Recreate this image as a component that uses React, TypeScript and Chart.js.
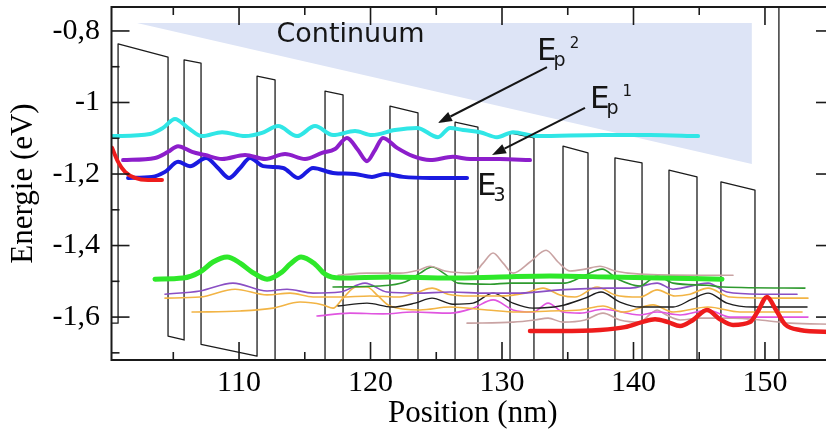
import React, { useEffect, useRef } from 'react';
import { Chart, registerables } from 'chart.js';

Chart.register(...registerables);

type Pt = [number, number];

// ---- axes ----
const xRange: Pt = [100.3, 155.25];
const yRange: Pt = [-1.72, -0.733];
const xTickValues = [110, 120, 130, 140, 150];
const xTickLabels = ['110', '120', '130', '140', '150'];
const xMinorTicks = [105, 115, 125, 135, 145, 155];
const yTickValues = [-0.8, -1, -1.2, -1.4, -1.6];
const yTickLabels = ['-0,8', '-1', '-1,2', '-1,4', '-1,6'];
const yMinorTicks = [-0.9, -1.1, -1.3, -1.5, -1.7];

// ---- data (Position nm, Energie eV) ----
const continuum: Pt[] = [[102.24, -0.778], [149.0, -0.778], [149.0, -1.172], [102.24, -0.778]];

const potential: Pt[] = [
  [99.5, -1.617], [100.8, -1.617], [100.8, -0.836], [104.6, -0.873], [104.6, -1.653], [105.82, -1.664],
  [105.82, -0.881], [107.11, -0.89], [107.11, -1.676], [111.37, -1.709], [111.37, -0.926], [112.74, -0.937],
  [112.74, -1.72], [116.54, -1.752], [116.54, -0.968], [117.91, -0.979], [117.91, -1.762], [121.48, -1.792],
  [121.48, -1.01], [123.61, -1.029], [123.61, -1.812], [126.43, -1.836], [126.43, -1.055], [128.17, -1.069],
  [128.17, -1.852], [130.61, -1.872], [130.61, -1.085], [132.43, -1.099], [132.43, -1.882], [134.64, -1.901],
  [134.64, -1.122], [136.54, -1.141], [136.54, -1.924], [138.59, -1.941], [138.59, -1.155], [140.65, -1.169],
  [140.65, -1.952], [142.7, -1.969], [142.7, -1.189], [144.83, -1.208], [144.83, -1.991], [146.65, -2.007],
  [146.65, -1.222], [149.24, -1.245], [149.24, -2.028], [151.06, -2.043], [151.06, -0.6],
];

const ep2Cyan: Pt[] = [
  [100.34, -1.094], [103.23, -1.088], [104.22, -1.071], [105.13, -1.046], [106.12, -1.071], [107.19, -1.094],
  [108.71, -1.083], [110.46, -1.094], [111.75, -1.085], [112.97, -1.066], [114.41, -1.094], [115.78, -1.066],
  [117.15, -1.091], [118.82, -1.08], [120.11, -1.091], [121.86, -1.077], [123.54, -1.071], [125.13, -1.097],
  [126.05, -1.071], [127.04, -1.077], [128.33, -1.083], [129.62, -1.097], [130.84, -1.083], [132.66, -1.094],
  [137.68, -1.091], [141.26, -1.091], [144.91, -1.094],
];

const ep1Purple: Pt[] = [
  [101.18, -1.161], [103.61, -1.155], [104.6, -1.138], [105.36, -1.122], [106.43, -1.138], [107.41, -1.147],
  [108.71, -1.158], [110.46, -1.147], [111.98, -1.158], [113.5, -1.144], [115.02, -1.158], [116.31, -1.141],
  [117.3, -1.13], [118.21, -1.099], [119.05, -1.133], [119.73, -1.164], [120.34, -1.133], [120.95, -1.099],
  [122.02, -1.127], [123.23, -1.15], [124.53, -1.161], [126.27, -1.152], [127.57, -1.158], [129.85, -1.158],
  [132.13, -1.161],
];

const e3Blue: Pt[] = [
  [101.56, -1.211], [103.38, -1.208], [104.37, -1.194], [105.36, -1.166], [106.27, -1.178], [107.49, -1.155],
  [108.4, -1.183], [109.24, -1.211], [110.08, -1.183], [110.84, -1.155], [111.83, -1.178], [113.35, -1.183],
  [114.49, -1.211], [115.63, -1.183], [117.15, -1.197], [118.82, -1.2], [120.11, -1.208], [121.1, -1.2],
  [122.47, -1.208], [124.53, -1.211], [127.34, -1.211],
];

const redTop: Pt[] = [[100.34, -1.127], [100.8, -1.166], [101.33, -1.194], [102.09, -1.211], [103.08, -1.217], [104.14, -1.217]];

const greenThick: Pt[] = [
  [103.61, -1.494], [105.74, -1.491], [107.03, -1.474], [108.02, -1.446], [109.09, -1.432], [110.08, -1.449],
  [110.99, -1.474], [112.13, -1.494], [113.27, -1.474], [113.88, -1.452], [114.72, -1.432], [115.78, -1.452],
  [116.54, -1.48], [117.68, -1.491], [121.48, -1.488], [126.05, -1.491], [129.85, -1.488], [133.65, -1.485],
  [138.21, -1.488], [142.02, -1.491], [146.73, -1.494],
];

const redBottom: Pt[] = [
  [132.13, -1.639], [134.41, -1.639], [137.45, -1.636], [139.35, -1.628], [140.65, -1.614], [141.64, -1.606],
  [142.63, -1.614], [143.54, -1.625], [144.53, -1.608], [145.59, -1.58], [146.58, -1.606], [147.57, -1.622],
  [148.86, -1.614], [149.47, -1.583], [150.15, -1.544], [150.84, -1.58], [151.52, -1.62], [152.66, -1.636],
  [155.25, -1.642],
];

const thinPurple: Pt[] = [
  [104.37, -1.536], [107.03, -1.527], [109.54, -1.505], [112.13, -1.527], [113.65, -1.522], [115.63, -1.533],
  [117.68, -1.53], [119.58, -1.505], [121.26, -1.53], [123.54, -1.533], [126.05, -1.53], [128.86, -1.533],
  [131.37, -1.533], [134.41, -1.524], [137.99, -1.519], [139.74, -1.519], [141.8, -1.505], [143.01, -1.522],
  [145.67, -1.505], [147.11, -1.53], [149.62, -1.536], [152.44, -1.536],
];

const thinOrangeA: Pt[] = [
  [104.37, -1.547], [107.03, -1.544], [109.7, -1.522], [112.13, -1.538], [113.88, -1.533], [115.63, -1.544],
  [117.68, -1.544], [119.96, -1.541], [122.24, -1.544], [123.61, -1.53], [124.68, -1.519], [125.89, -1.536],
  [127.57, -1.541], [129.85, -1.541], [131.75, -1.533], [133.12, -1.519], [134.41, -1.538], [135.55, -1.544],
  [137.23, -1.516], [138.59, -1.538], [140.5, -1.544], [141.8, -1.524], [143.16, -1.541], [144.3, -1.536],
  [145.67, -1.519], [147.34, -1.544], [150.38, -1.547], [153.27, -1.547],
];

const thinOrangeB: Pt[] = [
  [106.43, -1.586], [110.08, -1.583], [112.59, -1.575], [114.64, -1.558], [116.39, -1.566], [117.15, -1.575],
  [117.91, -1.547], [118.9, -1.516], [119.73, -1.516], [120.57, -1.541], [121.48, -1.569], [123.77, -1.58],
  [126.05, -1.572], [128.86, -1.58], [131.14, -1.586], [133.65, -1.583], [135.93, -1.58], [137.68, -1.569],
  [139.2, -1.586], [141.49, -1.566], [143.01, -1.586], [145.67, -1.572], [148.1, -1.586], [152.82, -1.586],
];

const thinBlack: Pt[] = [
  [117.53, -1.569], [119.73, -1.561], [121.64, -1.572], [123.38, -1.561], [124.68, -1.547], [126.27, -1.564],
  [127.8, -1.561], [129.32, -1.533], [130.84, -1.561], [132.36, -1.575], [134.41, -1.569], [136.31, -1.547],
  [137.53, -1.53], [138.97, -1.558], [140.5, -1.572], [143.01, -1.572], [144.45, -1.55], [145.67, -1.533],
  [147.11, -1.561], [149.09, -1.572], [153.2, -1.572],
];

const thinMagenta: Pt[] = [
  [115.93, -1.597], [118.44, -1.589], [120.95, -1.591], [123.23, -1.586], [126.05, -1.589], [127.8, -1.575],
  [129.32, -1.552], [130.84, -1.58], [132.36, -1.586], [133.5, -1.561], [134.64, -1.586], [135.93, -1.589],
  [137.68, -1.578], [140.5, -1.594], [141.8, -1.586], [143.54, -1.594], [145.67, -1.58], [147.34, -1.6],
  [153.27, -1.6],
];

const thinDarkGreen: Pt[] = [
  [117.15, -1.516], [120.72, -1.513], [122.62, -1.502], [123.77, -1.477], [124.68, -1.46], [125.67, -1.48],
  [126.65, -1.505], [129.09, -1.508], [130.61, -1.505], [132.89, -1.505], [134.79, -1.505], [136.31, -1.483],
  [137.61, -1.466], [138.82, -1.494], [140.5, -1.513], [141.8, -1.485], [143.01, -1.505], [145.59, -1.511],
  [146.81, -1.516], [153.04, -1.519],
];

const thinRoseUpper: Pt[] = [
  [117.53, -1.483], [119.73, -1.477], [122.24, -1.477], [123.61, -1.469], [124.53, -1.458], [125.67, -1.471],
  [127.8, -1.477], [128.56, -1.449], [129.32, -1.421], [130.08, -1.449], [130.84, -1.477], [132.13, -1.446],
  [133.35, -1.413], [134.26, -1.446], [135.17, -1.471], [136.31, -1.466], [137.45, -1.458], [138.59, -1.471],
  [140.5, -1.48], [145.06, -1.483], [147.57, -1.483],
];

const thinRoseLower: Pt[] = [
  [127.34, -1.617], [130.84, -1.614], [132.51, -1.608], [133.5, -1.603], [134.64, -1.614], [136.31, -1.608],
  [137.68, -1.589], [138.97, -1.608], [140.5, -1.614], [141.26, -1.592], [141.8, -1.58], [142.4, -1.592],
  [143.54, -1.608], [145.06, -1.603], [147.57, -1.603], [149.62, -1.608], [151.91, -1.617], [155.25, -1.62],
];

// ---- annotation anchors (data coords) ----
const continuumLabel = { text: 'Continuum', x: 118.48, y: -0.811 };
const stateLabels = [
  { base: 'E', sub: 'p', sup: '2', x: 132.66, y: -0.881 },
  { base: 'E', sub: 'p', sup: '1', x: 136.69, y: -1.015 },
  { base: 'E', sub: '3', sup: '', x: 128.1, y: -1.259 },
];
const arrows = [
  { from: [133.42, -0.901] as Pt, to: [125.13, -1.057] as Pt },
  { from: [136.31, -1.015] as Pt, to: [129.24, -1.147] as Pt },
];

const toXY = (pts: Pt[]) => pts.map(([x, y]) => ({ x, y }));

const line = (pts: Pt[], color: string, width: number, smooth = true) => ({
  data: toXY(pts),
  borderColor: color,
  backgroundColor: color,
  borderWidth: width,
  pointRadius: 0,
  fill: false,
  tension: 0,
  cubicInterpolationMode: smooth ? ('monotone' as const) : ('default' as const),
  borderCapStyle: 'round' as const,
  borderJoinStyle: 'round' as const,
});

const framePlugin = {
  id: 'frame',
  afterDatasetsDraw(chart: any) {
    const { ctx, chartArea: a, scales } = chart;
    const xs = scales.x;
    const ys = scales.y;
    ctx.save();
    ctx.strokeStyle = '#1a1a1a';
    ctx.lineWidth = 1.6;
    const seg = (x1: number, y1: number, x2: number, y2: number) => {
      ctx.beginPath();
      ctx.moveTo(x1, y1);
      ctx.lineTo(x2, y2);
      ctx.stroke();
    };
    const doX = (vals: number[], len: number) => {
      for (const v of vals) {
        const p = xs.getPixelForValue(v);
        if (p < a.left || p > a.right) continue;
        seg(p, a.bottom, p, a.bottom - len);
        seg(p, a.top, p, a.top + len);
      }
    };
    const doY = (vals: number[], len: number) => {
      for (const v of vals) {
        const p = ys.getPixelForValue(v);
        if (p < a.top || p > a.bottom) continue;
        seg(a.left, p, a.left + len, p);
        seg(a.right, p, a.right - len, p);
      }
    };
    doX(xTickValues, 18);
    doX(xMinorTicks, 8);
    doY(yTickValues, 18);
    doY(yMinorTicks, 8);
    ctx.lineWidth = 2;
    ctx.strokeRect(a.left, a.top, a.right - a.left, a.bottom - a.top);
    ctx.restore();
  },
};

const annoPlugin = {
  id: 'anno',
  afterDatasetsDraw(chart: any) {
    const { ctx, scales } = chart;
    const px = (v: number) => scales.x.getPixelForValue(v);
    const py = (v: number) => scales.y.getPixelForValue(v);
    ctx.save();
    ctx.fillStyle = '#151515';
    ctx.strokeStyle = '#151515';
    ctx.font = '27px "DejaVu Sans"';
    ctx.textAlign = 'center';
    ctx.textBaseline = 'middle';
    ctx.fillText(continuumLabel.text, px(continuumLabel.x), py(continuumLabel.y));

    for (const ar of arrows) {
      const x1 = px(ar.from[0]);
      const y1 = py(ar.from[1]);
      const x2 = px(ar.to[0]);
      const y2 = py(ar.to[1]);
      const ang = Math.atan2(y2 - y1, x2 - x1);
      const hl = 14;
      const hw = 5;
      const bx = x2 - hl * Math.cos(ang);
      const by = y2 - hl * Math.sin(ang);
      ctx.lineWidth = 2;
      ctx.beginPath();
      ctx.moveTo(x1, y1);
      ctx.lineTo(bx, by);
      ctx.stroke();
      ctx.beginPath();
      ctx.moveTo(x2, y2);
      ctx.lineTo(bx + hw * Math.sin(ang), by - hw * Math.cos(ang));
      ctx.lineTo(bx - hw * Math.sin(ang), by + hw * Math.cos(ang));
      ctx.closePath();
      ctx.fill();
    }

    ctx.textAlign = 'left';
    ctx.textBaseline = 'alphabetic';
    for (const s of stateLabels) {
      const x = px(s.x);
      const y = py(s.y);
      ctx.font = '31px "DejaVu Sans"';
      ctx.fillText(s.base, x, y);
      const w = ctx.measureText(s.base).width;
      ctx.font = '19px "DejaVu Sans"';
      const sx = x + w - 3;
      ctx.fillText(s.sub, sx, y + 6);
      const ws = ctx.measureText(s.sub).width;
      if (s.sup) {
        ctx.font = '15px "DejaVu Sans"';
        ctx.fillText(s.sup, sx + ws + 4, y - 12);
      }
    }
    ctx.restore();
  },
};

export default function App() {
  const ref = useRef<HTMLCanvasElement>(null);
  useEffect(() => {
    document.documentElement.style.overflow = 'hidden';
    document.body.style.overflow = 'hidden';
    const serif = 'Liberation Serif';
    const chart = new Chart(ref.current as HTMLCanvasElement, {
      type: 'line',
      data: {
        datasets: [
          line(redBottom, '#ee1c1c', 4.5),
          line(greenThick, '#2ee82a', 5),
          line(redTop, '#ee1c1c', 4),
          line(ep2Cyan, '#30e6e6', 4),
          line(ep1Purple, '#8c1ecb', 4),
          line(e3Blue, '#1a1ae0', 4),
          line(thinRoseUpper, '#c9a3a3', 1.6),
          line(thinDarkGreen, '#2f9a2f', 1.6),
          line(thinPurple, '#8a4fc4', 1.6),
          line(thinOrangeA, '#f2b445', 1.6),
          line(thinBlack, '#1e1e1e', 1.4),
          line(thinOrangeB, '#f2b445', 1.6),
          line(thinMagenta, '#e055e0', 1.6),
          line(thinRoseLower, '#c9a3a3', 1.6),
          line(potential, '#1c1c1c', 1.3, false),
          {
            data: toXY(continuum),
            borderWidth: 0,
            borderColor: 'rgba(0,0,0,0)',
            backgroundColor: '#dde4f6',
            pointRadius: 0,
            fill: 'shape',
            tension: 0,
          } as any,
        ],
      },
      options: {
        responsive: false,
        animation: false,
        events: [],
        layout: { padding: { left: 0, top: 7, right: 26, bottom: 0 } },
        plugins: { legend: { display: false }, tooltip: { enabled: false } },
        scales: {
          x: {
            type: 'linear',
            min: xRange[0],
            max: xRange[1],
            grid: { display: false, drawTicks: false },
            border: { display: false },
            afterBuildTicks: (s: any) => {
              s.ticks = xTickValues.map((v) => ({ value: v }));
            },
            afterFit: (s: any) => {
              s.height = 76;
              s.paddingLeft = 0;
              s.paddingRight = 0;
            },
            ticks: {
              autoSkip: false,
              maxRotation: 0,
              padding: 5,
              color: '#000',
              font: { family: serif, size: 30 },
              callback: (_v: any, i: number) => xTickLabels[i],
            },
            title: {
              display: true,
              text: 'Position (nm)',
              color: '#000',
              font: { family: serif, size: 31 },
              padding: { top: 0, bottom: 3.5 },
            },
          },
          y: {
            type: 'linear',
            min: yRange[0],
            max: yRange[1],
            grid: { display: false, drawTicks: false },
            border: { display: false },
            afterBuildTicks: (s: any) => {
              s.ticks = yTickValues.map((v) => ({ value: v }));
            },
            afterFit: (s: any) => {
              s.width = 111.5;
              s.paddingTop = 0;
              s.paddingBottom = 0;
            },
            ticks: {
              autoSkip: false,
              padding: 11.5,
              color: '#000',
              font: { family: serif, size: 30 },
              callback: (_v: any, i: number) => yTickLabels[i],
            },
            title: {
              display: true,
              text: 'Energie (eV)',
              color: '#000',
              font: { family: serif, size: 31 },
              padding: { top: 5, bottom: 0 },
            },
          },
        },
      },
      plugins: [framePlugin, annoPlugin],
    } as any);
    return () => chart.destroy();
  }, []);
  return (
    <div style={{ position: 'fixed', left: 0, top: 0, width: 860, height: 436, background: '#fff' }}>
      <canvas ref={ref} width={860} height={436} style={{ width: 860, height: 436 }} />
    </div>
  );
}
